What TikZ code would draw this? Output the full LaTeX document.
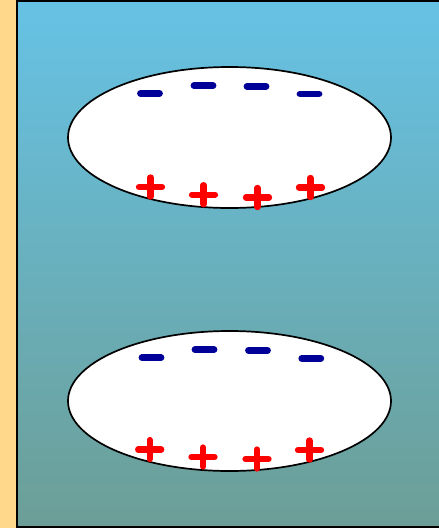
\documentclass[tikz,border=0pt]{standalone}
\begin{document}
\begin{tikzpicture}[x=1pt,y=-1pt,
  minus/.style={draw=minuscol,line width=6.8pt,line cap=round},
  plus/.style={draw=red,line width=6.3pt,line cap=round},
  blob/.style={draw=black,fill=white,line width=1.7pt}]
\definecolor{minuscol}{RGB}{0,0,153}
\definecolor{sidecol}{RGB}{255,216,140}
\definecolor{topcol}{RGB}{102,194,229}
\definecolor{botcol}{RGB}{108,158,150}
\useasboundingbox (0,0) rectangle (439,528);
\clip (0,0) rectangle (439,528);
\fill[sidecol] (0,0) rectangle (439,528);
\shade[top color=topcol,bottom color=botcol] (17,1) rectangle (441,527);
\draw[black,line width=2pt] (17,1) rectangle (441,527);
% ellipses
\draw[blob] (229.5,137.5) ellipse [x radius=161.5pt, y radius=70.5pt];
\draw[blob] (229.5,401) ellipse [x radius=161.5pt, y radius=70pt];
% top minus signs
\foreach \x/\y in {150/93.3, 203.5/85.7, 256.5/86.3, 309.5/94} {
  \draw[minus] (\x-9.5,\y) -- (\x+9.5,\y);
}
% top plus signs
\foreach \x/\y in {150.5/187, 203.5/194.7, 257.5/197.5, 310.5/187.5} {
  \draw[plus] (\x-11.5,\y) -- (\x+11.5,\y);
  \draw[plus] (\x,\y-9.5) -- (\x,\y+9.5);
}
% bottom minus signs
\foreach \x/\y in {151.5/357.7, 204.5/349.7, 258/350.3, 311.3/358.3} {
  \draw[minus] (\x-9.5,\y) -- (\x+9.5,\y);
}
% bottom plus signs
\foreach \x/\y in {149.7/449.5, 203/457, 257/459, 309.5/450} {
  \draw[plus] (\x-11.5,\y) -- (\x+11.5,\y);
  \draw[plus] (\x,\y-9.5) -- (\x,\y+9.5);
}
\end{tikzpicture}
\end{document}
